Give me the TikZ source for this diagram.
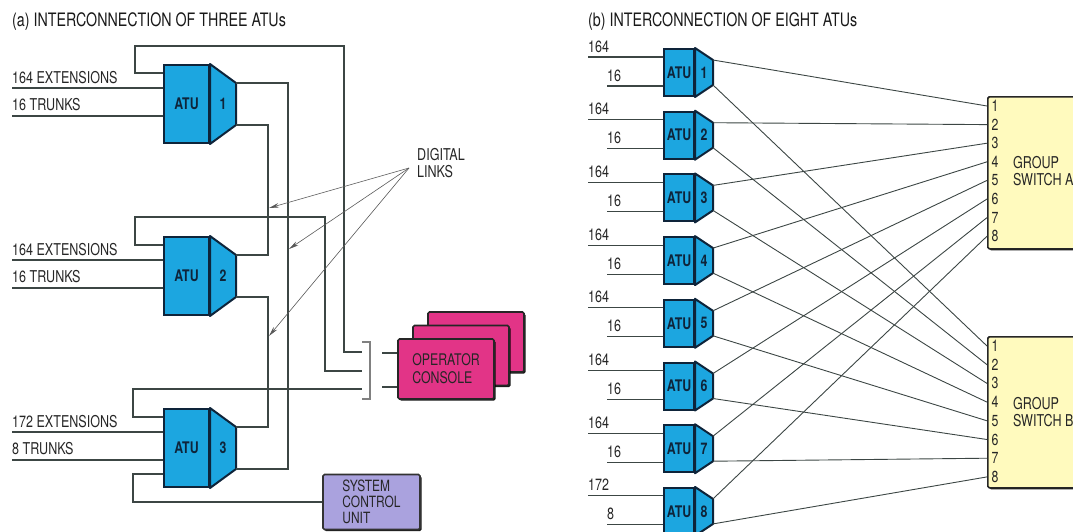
\documentclass[tikz,border=0pt]{standalone}
\usepackage{fontspec}
\setmainfont{TeX Gyre Heros}[FakeStretch=0.77]
\usepackage{tikz}
\usetikzlibrary{arrows.meta, positioning, calc, shadows}
\definecolor{atu_col}{RGB}{28,166,224}
\definecolor{atu_edge}{RGB}{14,36,58}
\definecolor{con_col}{RGB}{226,52,135}
\definecolor{scu_col}{RGB}{170,162,222}
\definecolor{sw_col}{RGB}{255,250,190}
\definecolor{wire_col}{RGB}{60,70,68}
% #1 name, #2 top left, #3 number, #4 body width, #5 slope width, #6 height, #7 slope drop
\newcommand{\ATU}[7]{%
  \node[atubody, minimum width=#4pt, minimum height=#6pt, anchor=north west] (#1) at #2 {ATU};
  \coordinate (#1-up) at ($(#1.north east)+(#5,#7)$);
  \coordinate (#1-dn) at ($(#1.south east)+(#5,-#7)$);
  \draw[atuedge] (#1.north east) -- (#1-up) -- (#1-dn) -- (#1.south east) -- cycle;
  \node[atunum] at ($(#1.east)+(#5/2,0)$) {#3};
}

\begin{document}
\begin{tikzpicture}[x=1pt, y=-1pt, >={Stealth[length=10pt, width=4.5pt]},
    lbl/.style={font=\fontsize{16.3}{17}\selectfont, text=black!85, inner sep=0pt},
    title/.style={font=\fontsize{18.5}{20}\selectfont, text=black!90, inner sep=0pt},
    wire/.style={draw=wire_col, line width=1.1pt},
    link/.style={draw=black!65, line width=0.6pt, ->},
    atubody/.style={draw=atu_edge, fill=atu_col, line width=2pt, inner sep=0pt,
      font=\fontsize{16}{18}\selectfont\bfseries, text=atu_edge},
    atuedge/.style={draw=atu_edge, fill=atu_col, line width=2pt, line join=round},
    atunum/.style={font=\fontsize{16}{18}\selectfont\bfseries, text=atu_edge, inner sep=0pt},
    boxshadow/.style={drop shadow={shadow xshift=1.6pt, shadow yshift=-1.6pt,
      fill=black, opacity=0.9}},
    console/.style={boxshadow, draw=black!85, fill=con_col, line width=1.6pt,
      rounded corners=1.5pt, minimum width=96pt, minimum height=60pt, align=left,
      font=\fontsize{16}{18}\selectfont, text=black!85},
    scu/.style={boxshadow, draw=black!80, fill=scu_col, line width=1.6pt,
      rounded corners=1.5pt, minimum width=97pt, minimum height=55pt, align=left,
      font=\fontsize{15.5}{16}\selectfont, text=black!85},
    swbox/.style={boxshadow, draw=black!85, fill=sw_col, line width=1.6pt,
      rounded corners=1.5pt, minimum width=120pt},
    portnum/.style={font=\fontsize{16}{18}\selectfont, text=black!85, inner sep=0pt}]
  \useasboundingbox (0,0) rectangle (1073,531);
  \clip (0,0) rectangle (1073,531);

  % (a) three ATUs
  \node[title, anchor=base west] (titleA) at (12,26) {(a) INTERCONNECTION OF THREE ATUs};
  \ATU{atuA1}{(163,64)}{1}{45}{26}{78}{19}
  \ATU{atuA2}{(163,236)}{2}{45}{26}{78}{19}
  \ATU{atuA3}{(163,408)}{3}{45}{26}{78}{19}

  \foreach \k/\ext/\trk in {1/164 EXTENSIONS/16 TRUNKS, 2/164 EXTENSIONS/16 TRUNKS,
                            3/172 EXTENSIONS/8 TRUNKS} {
    \draw[wire] ([yshift=-24pt]atuA\k.north west) -- ++(-151,0) coordinate (extA\k);
    \draw[wire] ([yshift=-52pt]atuA\k.north west) -- ++(-151,0) coordinate (trkA\k);
    \node[lbl, anchor=base west] at ([yshift=5pt]extA\k) {\ext};
    \node[lbl, anchor=base west] at ([yshift=6pt]trkA\k) {\trk};
  }

  \node[console] (conC) at (476,342) {};
  \node[console] (conB) at (461,355.5) {};
  \node[console] (con) at (446,369) {OPERATOR\\CONSOLE};
  \node[scu] (scu) at (371.5,502) {SYSTEM\\CONTROL\\UNIT};

  \coordinate (brk1) at (362,352);
  \coordinate (brk2) at (362,371);
  \coordinate (brk3) at (362,389);
  \draw[wire, draw=black!50] (362,342) -| (370,399) -- (362,399);
  \coordinate (cin1) at (382,353);
  \coordinate (cin2) at (382,387);
  \draw[wire] (cin1) -- (cin1 -| con.west);
  \draw[wire] (cin2) -- (cin2 -| con.west);

  % digital links between the ATUs
  \draw[wire] (atuA1-up) -| (288,300) |- (atuA3-dn);
  \draw[wire] (atuA1-dn) -| (268,200) |- (atuA2-up);
  \draw[wire] (atuA2-dn) -| (268,350) |- (atuA3-up);

  % loops to the consoles and the control unit
  \draw[wire] ([yshift=-9pt]atuA1.north west) -| (135,46) -| (344,352) -- (brk1);
  \draw[wire] ([yshift=-9pt]atuA2.north west) -| (135,217) -| (325,371) -- (brk2);
  \draw[wire] ([yshift=-9pt]atuA3.north west) -| (133,389) -- (brk3);
  \draw[wire] ([yshift=-66pt]atuA3.north west) -- ++(-30,0) |- (scu.west);

  \node[lbl, align=left, anchor=north west] (links) at (417,148) {DIGITAL\\LINKS};
  \coordinate (lk) at (409,168);
  \coordinate (tA) at (269,208);
  \coordinate (tB) at (289,249);
  \coordinate (tC) at (269,336);
  \draw[link] (lk) -- (tA);
  \draw[link] (lk) -- (tB);
  \draw[link] (lk) -- (tC);

  % (b) eight ATUs
  \node[title, anchor=base west] (titleB) at (588,26) {(b) INTERCONNECTION OF EIGHT ATUs};
  \node[swbox, minimum height=152pt, anchor=north west] (swA) at (987,96) {};
  \node[swbox, minimum height=151pt, anchor=north west] (swB) at (987,336) {};
  \foreach \i in {1,...,8} {
    \node[portnum] (swA-\i) at ($(swA.north west)+(8,{10+18.6*(\i-1)})$) {\i};
    \node[portnum] (swB-\i) at ($(swB.north west)+(8,{10+18.7*(\i-1)})$) {\i};
  }
  \node[lbl, align=left, anchor=west] at (1013,171) {GROUP\\SWITCH A};
  \node[lbl, align=left, anchor=west] at (1013,412) {GROUP\\SWITCH B};

  \foreach \k/\ext/\trk in {1/164/16, 2/164/16, 3/164/16, 4/164/16,
                            5/164/16, 6/164/16, 7/164/16, 8/172/8} {
    \ATU{atuB\k}{(663,{48+62.7*(\k-1)})}{\k}{30}{18}{47}{12}
    \draw[wire] ([yshift=-9pt]atuB\k.north west) -- ++(-75,0) coordinate (extB\k);
    \draw[wire] ([yshift=-38pt]atuB\k.north west) -- ++(-56,0) coordinate (trkB\k);
    \node[lbl, anchor=base west] at ([yshift=5pt]extB\k) {\ext};
    \node[lbl, anchor=base west] at ([yshift=5pt]trkB\k) {\trk};
    \draw[wire, line width=0.9pt] (atuB\k-up) -- (swA.west |- swA-\k);
    \draw[wire, line width=0.9pt] (atuB\k-dn) -- (swB.west |- swB-\k);
  }
\end{tikzpicture}
\end{document}
